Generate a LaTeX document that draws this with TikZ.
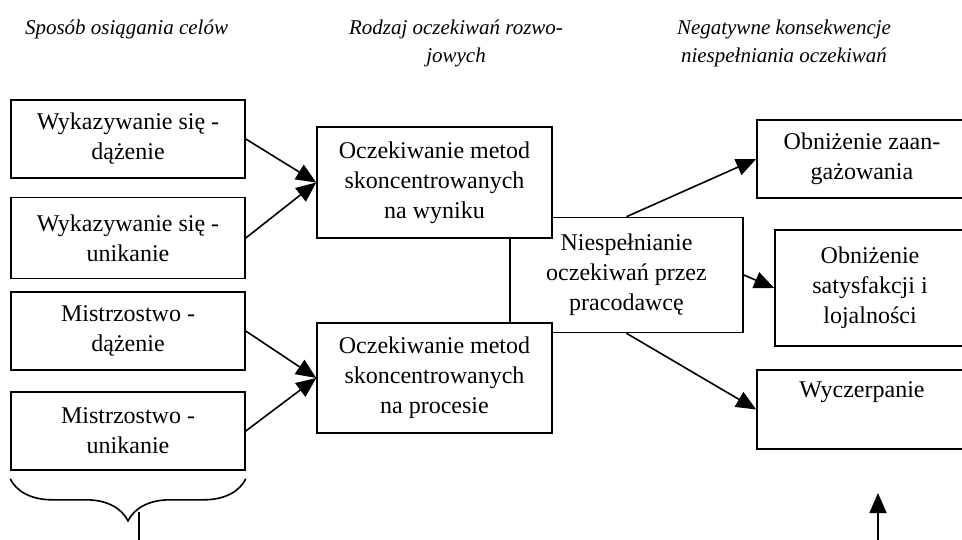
\documentclass[tikz,border=0pt]{standalone}
\usepackage{fontspec}
\setmainfont{Liberation Serif}
\usetikzlibrary{arrows.meta,positioning,decorations.pathreplacing}

\begin{document}
\begin{tikzpicture}[x=1pt,y=-1pt, line width=1.6pt,
  blok/.style={draw, rectangle, fill=white, align=center, inner sep=0pt, font=\fontsize{24}{30}\selectfont},
  naglowek/.style={align=center, font=\fontsize{21}{28}\selectfont\itshape},
  strz/.style={-{Triangle[length=20pt,width=17pt]}}]
\useasboundingbox (0,0) rectangle (962,540);
%============ naglowki
\node[naglowek] (H1) at (126.5,29) {Sposób osiągania celów};
\node[naglowek] (H2) at (456,43) {Rodzaj oczekiwań rozwo-\\jowych};
\node[naglowek] (H3) at (784,43) {Negatywne konsekwencje\\niespełniania oczekiwań};
%============ bloki
\node[blok, minimum width=233pt, minimum height=115pt] (N) at (626.5,275) {Niespełnianie\\oczekiwań przez\\pracodawcę};
\node[blok, minimum width=234pt, minimum height=78pt] (WD) at (128,139) {Wykazywanie się -\\dążenie};
\node[blok, minimum width=234pt, minimum height=81pt] (WU) at (128,238) {Wykazywanie się -\\unikanie};
\node[blok, minimum width=234pt, minimum height=78pt] (MD) at (128,331) {Mistrzostwo -\\dążenie};
\node[blok, minimum width=234pt, minimum height=78pt] (MU) at (128,431) {Mistrzostwo -\\unikanie};
\node[blok, minimum width=235pt, minimum height=111pt] (OW) at (434.5,182.5) {Oczekiwanie metod\\skoncentrowanych\\na wyniku};
\node[blok, minimum width=235pt, minimum height=110pt] (OP) at (434.5,378) {Oczekiwanie metod\\skoncentrowanych\\na procesie};
\node[blok, minimum width=210pt, minimum height=78pt] (Z) at (862,159) {Obniżenie zaan-\\gażowania};
\node[blok, minimum width=190pt, minimum height=116pt] (S) at (870,288) {Obniżenie\\satysfakcji i\\lojalności};
\node[blok, minimum width=210pt, minimum height=79pt] (W) at (862,409.5) {Wyczerpanie\\\strut};
%============ strzalki
\draw[strz] (WD.east) -- (OW.west);
\draw[strz] (WU.east) -- (OW.west);
\draw[strz] (MD.east) -- (OP.west);
\draw[strz] (MU.east) -- (OP.west);
\draw[strz] (N.north) -- (Z.west);
\draw[strz] (N.east) -- (S.west);
\draw[strz] (N.south) -- (W.west);
%============ klamra
\draw[decorate, decoration={brace, mirror, amplitude=42pt}] ([yshift=-8pt]MU.south west) -- ([yshift=-8pt]MU.south east);
\coordinate (K1) at (139,512);
\coordinate (K2) at (139,541);
\draw (K1) -- (K2);
\coordinate (P1) at (878,541);
\coordinate (P2) at (878,493);
\draw[strz] (P1) -- (P2);
\end{tikzpicture}
\end{document}
